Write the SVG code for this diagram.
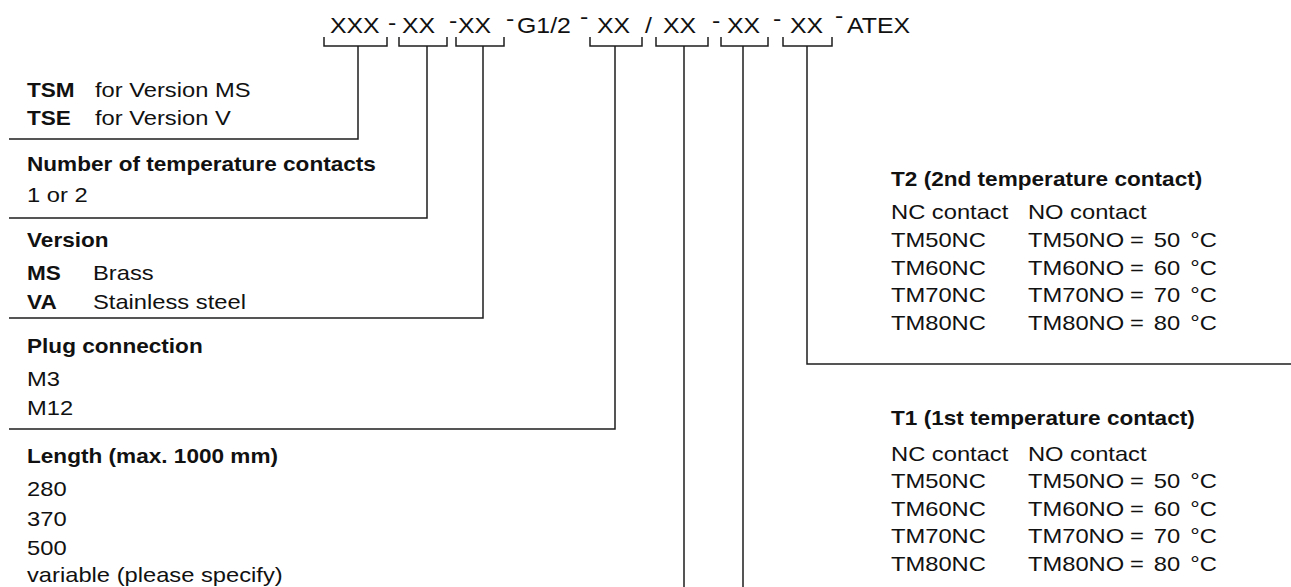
<svg xmlns="http://www.w3.org/2000/svg" width="1291" height="587" viewBox="0 0 1291 587">
<style>
text{font-family:"Liberation Sans",Arial,sans-serif;fill:#111}
.h{font-size:22px}
.b{font-size:20px;font-weight:bold}
.r{font-size:21px}
.eq{word-spacing:3px}
.ln{fill:none;stroke:#1e1e1e;stroke-width:1.5}
</style>
<rect width="1291" height="587" fill="#fff"/>
<g id="connectors" class="ln">
<path d="M324 37V46H387V37M358 46V139H9"/>
<path d="M399 37V46H447V37M427 46V218H9"/>
<path d="M456 37V46H504V37M483 46V318H9"/>
<path d="M590 37V46H642V37M615 46V429H9"/>
<path d="M656 37V46H708V37M684 46V587"/>
<path d="M721 37V46H768V37M743 46V587"/>
<path d="M783 37V46H832V37M807 46V364H1291"/>
</g>
<g id="code" transform="scale(1.13 1)" class="h">
<text x="292" y="33">XXX</text>
<text x="343.4" y="30.5">-</text>
<text x="355.8" y="33">XX</text>
<text x="397.4" y="28">-</text>
<text x="405.3" y="33">XX</text>
<text x="447.8" y="26.5">-</text>
<text x="457.5" y="33">G1/2</text>
<text x="513.3" y="24">-</text>
<text x="528.3" y="33">XX</text>
<text x="570.8" y="33">/</text>
<text x="586.7" y="33">XX</text>
<text x="630.1" y="28">-</text>
<text x="643.4" y="33">XX</text>
<text x="684.1" y="26.5">-</text>
<text x="699.1" y="33">XX</text>
<text x="738.9" y="23.5">-</text>
<text x="749.6" y="33">ATEX</text>
</g>
<g id="n-prefix" transform="scale(1.13 1)">
<text class="b" x="23.9" y="97">TSM</text><text class="r" x="84.1" y="97">for Version MS</text>
<text class="b" x="23.9" y="125">TSE</text><text class="r" x="84.1" y="125">for Version V</text>
</g>
<g id="n-contacts" transform="scale(1.13 1)">
<text class="b" x="23.9" y="171">Number of temperature contacts</text>
<text class="r" x="23.9" y="202">1 or 2</text>
</g>
<g id="n-version" transform="scale(1.13 1)">
<text class="b" x="23.9" y="247">Version</text>
<text class="b" x="23.9" y="280">MS</text><text class="r" x="82.3" y="280">Brass</text>
<text class="b" x="23.9" y="309">VA</text><text class="r" x="82.3" y="309">Stainless steel</text>
</g>
<g id="n-plug" transform="scale(1.13 1)">
<text class="b" x="23.9" y="353">Plug connection</text>
<text class="r" x="23.9" y="386">M3</text>
<text class="r" x="23.9" y="415">M12</text>
</g>
<g id="n-length" transform="scale(1.13 1)">
<text class="b" x="23.9" y="463">Length (max. 1000 mm)</text>
<text class="r" x="23.9" y="496">280</text>
<text class="r" x="23.9" y="526">370</text>
<text class="r" x="23.9" y="555">500</text>
<text class="r" x="23.9" y="582">variable (please specify)</text>
</g>
<g id="n-t2" transform="scale(1.13 1)">
<text class="b" x="788.5" y="186">T2 (2nd temperature contact)</text>
<text class="r" x="788.5" y="219">NC contact</text><text class="r" x="909.7" y="219">NO contact</text>
<text class="r" x="788.5" y="247">TM50NC</text><text class="r" x="909.7" y="247">TM50NO</text><text class="r eq" x="1000" y="247">= 50 °C</text>
<text class="r" x="788.5" y="275">TM60NC</text><text class="r" x="909.7" y="275">TM60NO</text><text class="r eq" x="1000" y="275">= 60 °C</text>
<text class="r" x="788.5" y="302">TM70NC</text><text class="r" x="909.7" y="302">TM70NO</text><text class="r eq" x="1000" y="302">= 70 °C</text>
<text class="r" x="788.5" y="330">TM80NC</text><text class="r" x="909.7" y="330">TM80NO</text><text class="r eq" x="1000" y="330">= 80 °C</text>
</g>
<g id="n-t1" transform="scale(1.13 1)">
<text class="b" x="788.5" y="425">T1 (1st temperature contact)</text>
<text class="r" x="788.5" y="461">NC contact</text><text class="r" x="909.7" y="461">NO contact</text>
<text class="r" x="788.5" y="488">TM50NC</text><text class="r" x="909.7" y="488">TM50NO</text><text class="r eq" x="1000" y="488">= 50 °C</text>
<text class="r" x="788.5" y="516">TM60NC</text><text class="r" x="909.7" y="516">TM60NO</text><text class="r eq" x="1000" y="516">= 60 °C</text>
<text class="r" x="788.5" y="543">TM70NC</text><text class="r" x="909.7" y="543">TM70NO</text><text class="r eq" x="1000" y="543">= 70 °C</text>
<text class="r" x="788.5" y="571">TM80NC</text><text class="r" x="909.7" y="571">TM80NO</text><text class="r eq" x="1000" y="571">= 80 °C</text>
</g>
</svg>
